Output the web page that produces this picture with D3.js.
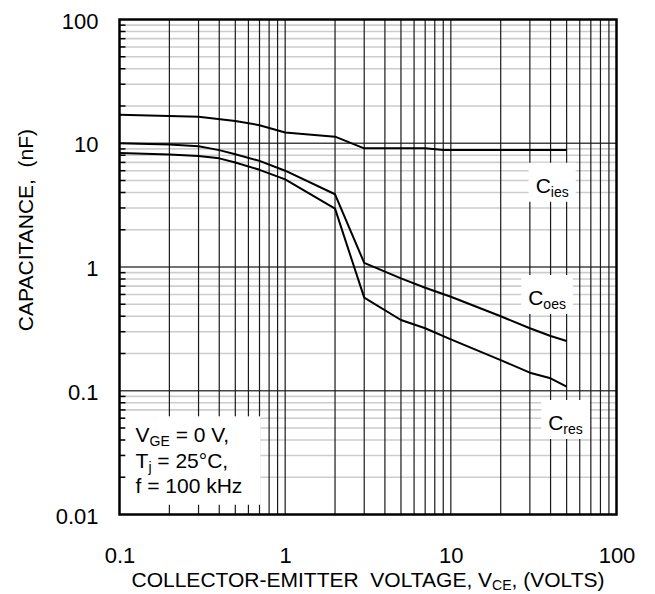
<!DOCTYPE html>
<html><head><meta charset="utf-8">
<script src="https://cdn.jsdelivr.net/npm/d3@7"></script>
<style>
html,body{margin:0;padding:0;background:#fff;}
svg{display:block;font-family:"Liberation Sans",Arial,Helvetica,sans-serif;}
</style></head><body>
<svg id="chart" width="655" height="594"></svg>
<script>
// Collector-emitter voltage (V) and capacitances (nF)
const vceIes = [0.1, 0.3, 0.5, 0.7, 1, 2, 3, 7, 9, 50];
const cies   = [17, 16.4, 15.1, 14.0, 12.2, 11.3, 9.1, 9.1, 8.8, 8.8];
const vce    = [0.1, 0.2, 0.3, 0.4, 0.5, 0.7, 1, 2, 3, 5, 7, 10, 20, 30, 40, 50];
const coes   = [10.0, 9.75, 9.45, 8.8, 8.15, 7.2, 6.0, 3.87, 1.08, 0.81, 0.68, 0.575, 0.40, 0.32, 0.277, 0.252];
const cres   = [8.35, 8.1, 7.88, 7.55, 7.0, 6.1, 5.1, 2.96, 0.565, 0.373, 0.32, 0.26, 0.177, 0.14, 0.126, 0.108];

const xTickLabels = [0.1, 1, 10, 100];
const yTickLabels = [0.01, 0.1, 1, 10, 100];

// Curve names, anchored in data space (text start, baseline)
const curveNames = [
  {main: "C", sub: "ies", x: 32.5, y: 3.98},
  {main: "C", sub: "oes", x: 29.3, y: 0.493},
  {main: "C", sub: "res", x: 38.7, y: 0.0482}
];
// Test conditions, one entry per line: [main, subscript, rest]
const conditionLines = [
  ["V", "GE", " = 0 V,"],
  ["T", "j", " = 25°C,"],
  ["f = 100 kHz", "", ""]
];

const W = 655, H = 594;
const plotL = 119.5, plotR = 616.5, plotT = 19.5, plotB = 514.5;

const x = d3.scaleLog().domain([0.1, 100]).range([plotL, plotR]);
const y = d3.scaleLog().domain([0.01, 100]).range([plotB, plotT]);

const svg = d3.select("#chart");
svg.append("rect").attr("width", W).attr("height", H).attr("fill", "#fff");

// grid values: every 1..9 step inside each decade
function decadeSteps(lo, hi) {
  const out = [];
  for (let d = lo; d < hi * 0.999; d *= 10) {
    for (let k = 1; k <= 9; k++) out.push(+(k * d).toPrecision(3));
  }
  return out.filter(v => v > lo * 1.0001 && v < hi * 0.9999);
}
const xGrid = decadeSteps(0.1, 100);
const yGrid = decadeSteps(0.01, 100);
const isMajor = v => Math.abs(Math.log10(v) - Math.round(Math.log10(v))) < 1e-6;

const grid = svg.append("g");
// horizontal minor lines
grid.selectAll("line.hmin").data(yGrid.filter(v => !isMajor(v))).join("line")
  .attr("class", "hmin")
  .attr("x1", plotL).attr("x2", plotR)
  .attr("y1", d => y(d)).attr("y2", d => y(d))
  .attr("stroke", "#cdcdcd").attr("stroke-width", 1.6);
// horizontal decade lines
grid.selectAll("line.hmaj").data(yGrid.filter(isMajor)).join("line")
  .attr("class", "hmaj")
  .attr("x1", plotL).attr("x2", plotR)
  .attr("y1", d => y(d)).attr("y2", d => y(d))
  .attr("stroke", "#444").attr("stroke-width", 1.6);
// vertical lines
grid.selectAll("line.v").data(xGrid).join("line")
  .attr("class", "v")
  .attr("x1", d => x(d)).attr("x2", d => x(d))
  .attr("y1", plotT).attr("y2", plotB)
  .attr("stroke", "#1a1a1a").attr("stroke-width", 1.2);
// short inner ticks on the left edge
grid.selectAll("line.lt").data(yGrid.filter(v => !isMajor(v))).join("line")
  .attr("class", "lt")
  .attr("x1", plotL).attr("x2", plotL + 6)
  .attr("y1", d => y(d)).attr("y2", d => y(d))
  .attr("stroke", "#000").attr("stroke-width", 1.5);

// curves
const line = d3.line().x(d => x(d[0])).y(d => y(d[1]));
const series = [
  d3.zip(vceIes, cies),
  d3.zip(vce, coes),
  d3.zip(vce, cres)
];
svg.append("g").selectAll("path").data(series).join("path")
  .attr("d", line)
  .attr("fill", "none").attr("stroke", "#000")
  .attr("stroke-width", 2).attr("stroke-linejoin", "round");

// curve names on white boxes
const nameG = svg.append("g");
curveNames.forEach(n => {
  const g = nameG.append("g");
  const bg = g.append("rect").attr("fill", "#fff");
  const t = g.append("text")
    .attr("x", x(n.x)).attr("y", y(n.y))
    .attr("font-size", 21).attr("fill", "#000");
  t.append("tspan").text(n.main);
  t.append("tspan").attr("font-size", 14).attr("dy", 4).text(n.sub);
  const b = t.node().getBBox();
  bg.attr("x", b.x - 7).attr("width", b.width + 14)
    .attr("y", y(n.y) - 30).attr("height", 39);
});

// test conditions box
const condX = x(0.125), condBase = y(0.0383);
const condG = svg.append("g");
condG.append("rect").attr("fill", "#fff")
  .attr("x", condX - 10).attr("y", condBase - 26)
  .attr("width", 135).attr("height", 88.4);
const condText = condG.append("text").attr("font-size", 21).attr("fill", "#000")
  .style("white-space", "pre");
conditionLines.forEach((parts, i) => {
  condText.append("tspan").attr("x", condX).attr("y", condBase + i * 25.5).text(parts[0]);
  if (parts[1]) {
    condText.append("tspan").attr("font-size", 14).attr("dy", 4).text(parts[1]);
    condText.append("tspan").attr("dy", -4).text(parts[2]);
  }
});

// frame
svg.append("rect")
  .attr("x", plotL).attr("y", plotT)
  .attr("width", plotR - plotL).attr("height", plotB - plotT)
  .attr("fill", "none").attr("stroke", "#000").attr("stroke-width", 2.5);

// axes (labels only)
const fmt = d => String(d);
const xAxis = svg.append("g").attr("transform", `translate(0,${plotB})`)
  .call(d3.axisBottom(x).tickValues(xTickLabels).tickFormat(fmt).tickSize(0).tickPadding(32.5));
const yAxis = svg.append("g").attr("transform", `translate(${plotL},1.5)`)
  .call(d3.axisLeft(y).tickValues(yTickLabels).tickFormat(fmt).tickSize(0).tickPadding(21));
[xAxis, yAxis].forEach(a => {
  a.select(".domain").remove();
  a.selectAll("text").attr("font-size", 22).attr("fill", "#000")
    .attr("font-family", "'Liberation Sans',Arial,sans-serif");
});

// axis titles
const xt = svg.append("text")
  .attr("x", (plotL + plotR) / 2).attr("y", 587)
  .attr("text-anchor", "middle").attr("font-size", 21).attr("fill", "#000")
  .style("white-space", "pre");
xt.append("tspan").text("COLLECTOR-EMITTER  VOLTAGE, V");
xt.append("tspan").attr("font-size", 14).attr("dy", 3).text("CE");
xt.append("tspan").attr("dy", -3).text(", (VOLTS)");

svg.append("text")
  .attr("transform", "translate(32.5,230) rotate(-90)")
  .attr("text-anchor", "middle").attr("font-size", 21).attr("fill", "#000")
  .style("white-space", "pre")
  .text("CAPACITANCE,  (nF)");
</script>
</body></html>
